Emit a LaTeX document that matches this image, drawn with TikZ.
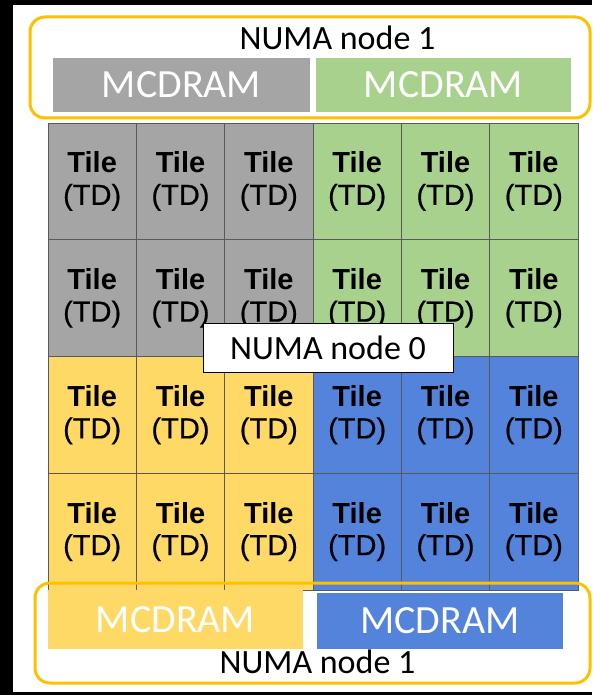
\documentclass[tikz,border=0pt]{standalone}
\usepackage{fontspec}
\setmainfont{Carlito}
\newfontfamily\tilefont{Liberation Sans}
\newfontfamily\tdfont[FakeBold=0.6]{Liberation Sans}
\usetikzlibrary{positioning}
\definecolor{colorframe}  {RGB}{  0,  0,  0}
\definecolor{colorwhite}  {RGB}{255,255,255}
\definecolor{colornuma}   {RGB}{255,192,  0}
\definecolor{colorgray}   {RGB}{165,165,165}
\definecolor{colorgreen}  {RGB}{169,209,142}
\definecolor{coloryellow} {RGB}{255,217,102}
\definecolor{colorblue}   {RGB}{ 84,131,219}

\begin{document}
\begin{tikzpicture}[
    x=1pt, y=-1pt,
    title/.style={text=black,font={\fontsize{34}{36}\selectfont}},
    mcdram/.style={text=colorwhite,font={\fontsize{40}{42}\selectfont},inner sep=0pt,minimum height=54pt},
    tile/.style={draw=black!65,line width=0.6pt,minimum width=88.33pt,minimum height=116.75pt,
                 inner sep=0pt,align=center,font={\tilefont\fontsize{29}{32}\selectfont}},
    numa/.style={colornuma,line width=3pt,rounded corners=15pt},
]
    \useasboundingbox (0,0) rectangle (592,695);

    % Frame
    \fill[colorframe] (0,0) rectangle (592,695);
    \fill[colorwhite] (13,5) rectangle (592,692);

    % Tiles
    \foreach \r in {1,2} \foreach \c in {1,2,3}
        \node[tile,fill=colorgray] (tile\r\c) at ({48+(\c-0.5)*88.33},{123+(\r-0.5)*116.75}) {\textbf{Tile}\\{\tdfont(TD)}};
    \foreach \r in {1,2} \foreach \c in {4,5,6}
        \node[tile,fill=colorgreen] (tile\r\c) at ({48+(\c-0.5)*88.33},{123+(\r-0.5)*116.75}) {\textbf{Tile}\\{\tdfont(TD)}};
    \foreach \r in {3,4} \foreach \c in {1,2,3}
        \node[tile,fill=coloryellow] (tile\r\c) at ({48+(\c-0.5)*88.33},{123+(\r-0.5)*116.75}) {\textbf{Tile}\\{\tdfont(TD)}};
    \foreach \r in {3,4} \foreach \c in {4,5,6}
        \node[tile,fill=colorblue] (tile\r\c) at ({48+(\c-0.5)*88.33},{123+(\r-0.5)*116.75}) {\textbf{Tile}\\{\tdfont(TD)}};

    % NUMA node 1 (top)
    \draw[numa] (30,17) rectangle (590,118);
    \node[title,anchor=base] (numatop) at (337.5,50) {NUMA node 1};
    \node[mcdram,fill=colorgray,minimum width=257pt] (mcdramgray) at (181.5,85) {MCDRAM};
    \node[mcdram,fill=colorgreen,minimum width=255pt] (mcdramgreen) at (443.5,85) {MCDRAM};

    % NUMA node 1 (bottom)
    \draw[numa] (35,583) rectangle (590,683);
    \node[mcdram,fill=coloryellow,minimum width=255pt,minimum height=59pt] (mcdramyellow) at (175.5,619.5) {MCDRAM};
    \node[mcdram,fill=colorblue,minimum width=246pt,minimum height=56pt] (mcdramblue) at (440,621) {MCDRAM};
    \node[title,anchor=base] (numabottom) at (317.5,673) {NUMA node 1};

    % NUMA node 0
    \node[title,draw=black,fill=colorwhite,line width=0.8pt,minimum width=250pt,minimum height=49pt] (numazero) at (328,347.5) {NUMA node 0};

\end{tikzpicture}
\end{document}
